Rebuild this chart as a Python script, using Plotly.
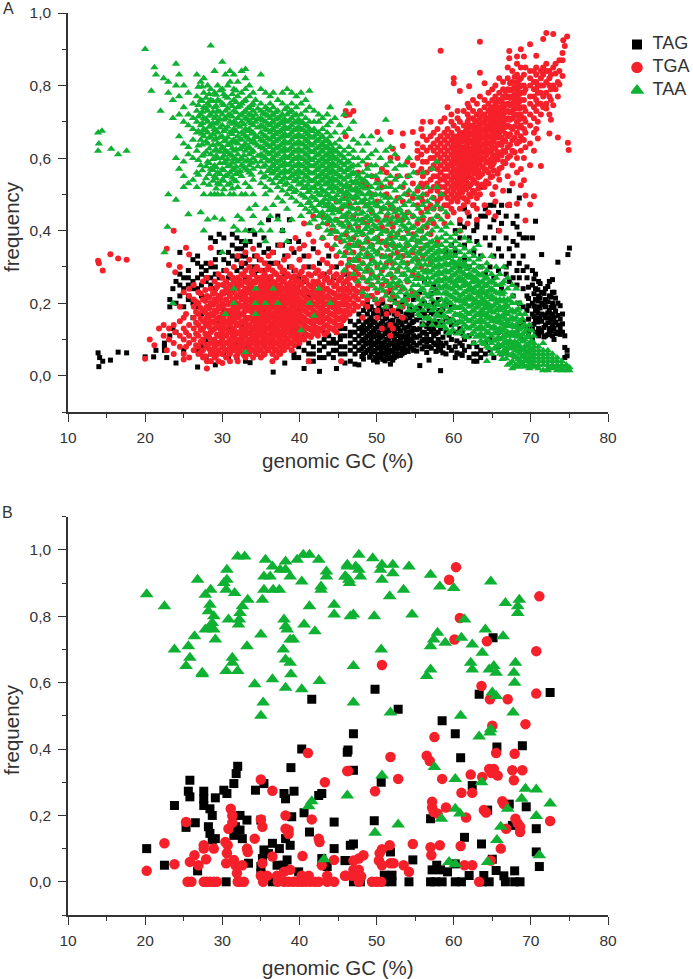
import plotly.graph_objects as go

# ---------- Panel A: (genomic GC %, [frequency x 100, ...]) ----------
TAG_A = [(13.9,[6.3]),(14.1,[5]),(14.5,[4]),(14,[2.5]),(15.5,[4.3]),(16.5,[6.5]),(17.6,[6.3]),(20,[5.2]),(21.1,[5.2]),(21.4,[7]),
(22.5,[8,7,9]),(22.8,[5]),(23.2,[21,19,11]),(23.6,[13,24]),(24,[3.5,20,12,26]),(24.5,[34,28,22,25]),(25,[7,24,27,19]),
(25.6,[21,25,27,29,22]),(26.2,[32,24,20,26,16]),(26.8,[2.4,33,31,27,24,19,7]),(27.3,[25,28,30,22,8,17]),(27.9,[27,29,26,31,10,5,14]),
(28.5,[38,30,27,25,4,6,20]),(29.1,[37,30,32,28,3,24,9]),(29.6,[39,34,27,22,11,15]),(30.2,[38,32,29,25,6,18]),(30.8,[34,31,27,5,23,13]),
(31.3,[39,36,33,27,24,20,7]),(31.9,[38,35,32,29,25,9,5]),(32.5,[37,35,33,30,22,14]),(33,[36,33,31,27,4,19,8]),(33.6,[40,37,3.6,30,24,12]),
(34.2,[39,33,30,28,15]),(34.8,[36,32,29,22]),(35.4,[38,34,29,18,6]),(36,[43,35,31,26]),(36.6,[1,34,31,9,22]),(37.2,[44,36,31,16]),
(37.8,[40,36,29,7]),(38.1,[3.5,33,28,13]),(38.7,[43,37,30,24]),(39.3,[34,29,6,5]),(39.9,[37,27,8,5,18]),(40.6,[2,33,26,7,11]),
(41.2,[30,6,9,4,22]),(41.8,[35,6,8,4,14]),(42.6,[1.2,31,9,5,7,25]),(43.2,[28,8,5,10,12]),(43.8,[33,9,11,6,20]),(44.4,[27,10,7,9,5]),
(44.8,[2,9,12,7,30]),(45.3,[11,8,6,10,13,22]),(45.9,[3.5,11,8,6,13,28]),(46.6,[4,11,9,7,12,15]),(47.2,[3.2,10,8,12,14,6,32]),
(47.7,[3,9,11,7,13,15,17]),(48.3,[4.6,8,10,12,14,6,18]),(48.8,[7,9,11,13,15,17,20]),(49.3,[6,8,10,12,14,16,19,22]),(49.8,[5,7,9,11,13,15,18,21]),
(50.3,[5,6,8,10,12,14,16,19]),(50.8,[4.5,6,8,9,11,13,15,17,20]),(51.3,[5,7,8,10,12,14,16,18]),(51.8,[3.2,5,7,9,11,13,15,19,23]),
(52.3,[5,6,8,10,12,14,17,21]),(52.8,[6,8,9,11,13,15,18]),(53.3,[6,7,9,11,14,16,20]),(53.8,[7,9,10,12,15,17,22]),(54.3,[8,10,12,14,16,19]),
(54.8,[7,9,11,13,15,18,21]),(55.6,[2.8,9,11,13,16,19,23]),(56.2,[8,10,12,14,17,20,26]),(56.8,[4.3,8,10,13,15,18,22]),(57.4,[9,11,13,15,17,20,25]),
(58,[8,10,12,15,18,21]),(58.3,[1.4,7,9,13,17]),(59,[6,9,12,16,20,34]),(59.7,[7,10,14,19,36]),(60.2,[5,8,12,53,40,34]),(60.8,[6,9,13,38,42,30]),
(61.4,[7,10,36,41,46,32]),(62,[5,8,11,38,44,30]),(62.6,[4,6,9,34,40,47]),(63,[4,6,8,42,41,37]),(63.5,[5,7,52,44,33,30]),(64.1,[6,9,44,46,38,28]),
(64.7,[7,10,47,41,36,30]),(65.2,[5,47,43,38,33,27]),(65.8,[8,12,45,40,35,29]),(66.2,[6,47,42,33,24]),(66.8,[7,44,38,30,28]),(67.2,[51,47,35,31,26]),
(67.7,[9,42,37,33,27,22]),(68.2,[44,41,36,29,25,12]),(68.5,[49,39,31,27,20,14]),(69,[38,33,29,24,19,15,10]),(69.5,[38,30,27,22,18,13]),
(70.2,[38,29,25,20,17,13,10]),(70.6,[42.6,28,24,21,18,15,12]),(71,[26,22,19,16,13,11]),(71.4,[33.4,23,20,17,15,12]),(71.9,[24,21,19,16,14,11]),
(72.4,[26,22,18,16,13,12]),(72.8,[26.5,23,20,17,14,11]),(73,[23,19,16,13,10]),(73.5,[31.3,20,16.6,14,12]),(74.1,[14.3,12,17]),(74.4,[7.8,11,5]),
(74.7,[5.5,7]),(74.8,[33.4]),(75,[35.2])]
TAG_A_EXTRA = [(48.1,[5.3,7.4,9.6,11.7,13.3,16.2]),(48.6,[6.4,8.7,10.4,12.6,14.8,19.1]),(49.1,[5.1,7.3,9.2,11.4,13.6,15.4,18.3]),(49.6,[4.3,6.6,8.6,10.7,12.4,14.7,17.2]),
(50.1,[3.8,5.7,7.6,9.4,11.3,13.5,16.6]),(50.6,[5.2,7.2,8.7,10.6,12.7,14.4,18.1]),(51.1,[4.1,6.2,7.7,9.3,11.6,13.4,15.7]),(51.6,[4.7,6.3,8.4,10.3,12.4,14.3,17.3]),
(52.1,[4.3,6.7,8.8,10.8,12.8,15.3]),(52.6,[5.4,7.3,9.4,11.5,13.6,16.4]),(53.1,[5.6,7.6,10.3,12.4,14.7,17.6]),(53.6,[6.4,8.3,10.7,13.2,15.6]),
(54.1,[6.7,8.8,11.2,13.4,17.4]),(54.6,[7.6,9.7,12.3,14.6,16.7]),(55.2,[6.8,8.4,10.6,12.7,15.4,18.6]),(55.9,[7.4,9.6,11.8,14.3,17.7]),(56.5,[6.4,9.3,11.4,13.6,16.2,19.4]),
(57.1,[7.6,9.7,12.2,14.4,17.4,22.6]),(57.7,[6.7,8.6,11.6,14.2,19.7,23.4]),(58.6,[6.3,8.3,10.6,14.7,18.4]),(59.4,[7.8,11.2,15.6]),(60.4,[6.3,9.6,14.7]),
(61.1,[5.6,8.3,11.7]),(69.7,[15.6,19.3,24.4,11.7,21.3]),(70.4,[14.2,16.3,19.2,22.6,26.7]),(70.9,[11.4,14.8,17.4,20.6,23.7]),(71.2,[12.6,15.7,18.7,21.4,25.4]),
(71.7,[10.7,13.3,16.8,19.6,22.7]),(72.2,[11.3,14.6,17.3,20.4,24.6]),(72.6,[12.4,15.3,18.8,21.7]),(73.2,[11.6,14.7,17.8,21.4]),(73.8,[11.4,13.2,15.6,19.3])]

TGA_A = [(13.9,[31.7]),(14,[31]),(14.5,[29]),(15.5,[33.5]),(16.5,[32.3]),(17.6,[32]),(20,[4.7]),(20.6,[10]),(21.2,[8.4]),(21.8,[13]),(22.4,[11,14]),
(22.8,[35,7]),(23.1,[30.5,13,10]),(23.7,[40,14,9,6]),(23.9,[28.5,12]),(24.5,[30,11,8,15,19]),(25,[10,6,13,16,23,4.5]),(25.3,[35.3,8,12,17]),
(25.7,[33.4,5,9,11,14,22,24]),(26.3,[7,10,13,16,19,21,25]),(26.9,[6,8,11,14,17,20,23]),(27.5,[5,7,10,13,15,18,21,26]),(28,[2,4,8,11,14,16,19,22,27]),
(28.5,[35.3,4,6,9,12,15,17,20,24,31]),(29,[5,8,10,13,15,18,21,23,26]),(29.5,[4,7,9,11,14,16,19,22,25,28]),(30,[3.5,6,8,10,12,15,17,20,23,27]),
(30.5,[5,7,9,11,13,15,18,21,24,26,29]),(31,[4,6,8,10,12,14,16,18,20,22,25,28]),(31.5,[7,9,11,13,15,17,19,21,23,26,30]),
(32,[4,6,8,10,12,14,16,18,20,22,24,27,33]),(32.5,[8,10,11,13,15,17,19,21,23,25,28,31]),(33,[5,7,9,11,13,15,16,18,20,22,24,26,29,34]),
(33.5,[6,8,10,12,14,16,18,19,21,23,25,27,30,32]),(34,[5,7,9,11,13,15,17,19,21,22,24,26,28,35]),(34.5,[6,8,10,12,13,15,17,18,20,22,24,27,30,33]),
(35,[5,7,9,11,12,14,16,18,20,21,23,25,27,29,32]),(35.5,[6,8,10,12,14,15,17,19,21,22,24,26,28,31]),(36,[7,9,11,13,15,16,18,20,22,23,25,27,30,33]),
(36.5,[4,6,8,10,12,14,16,17,19,21,23,24,26,29,34]),(37,[5,7,9,11,13,15,17,18,20,22,24,25,28,31]),(37.5,[6,8,10,12,14,16,18,19,21,23,25,27,30,36]),
(38,[7,9,11,13,15,17,19,21,22,24,26,29,32]),(38.5,[8,10,12,14,16,18,20,22,23,25,28,33]),(39,[7,9,11,13,15,17,19,21,23,24,27,30,35]),
(39.5,[10,12,14,16,18,20,22,24,26,29,38]),(40,[9,11,13,15,17,19,21,23,25,28,32,35]),(40.6,[10,12,14,16,18,20,22,24,27,30,36,42]),
(41.2,[4,11,13,15,17,19,21,23,25,28,33,39]),(41.8,[12,14,16,18,20,22,24,26,30,37,44]),(42.4,[11,13,15,17,19,21,23,26,29,34,41]),
(43,[13,15,17,19,21,23,25,28,32,38,44]),(43.6,[12,14,16,18,20,22,24,27,31,36,42,47]),(44.2,[13,15,17,19,21,23,26,30,35,40,46]),
(44.8,[12,14,16,18,20,22,25,28,33,38,43,48]),(45.4,[4,14,16,18,20,22,24,27,31,37,42,46,51]),(46,[16,18,20,22,24,26,29,34,39,44,49,71.8,73,66]),
(46.5,[17,19,21,23,25,28,32,36,41,47,52,72]),(47,[18,20,22,24,27,30,34,38,44,49,73]),(47.6,[19,21,23,25,28,32,36,41,46,51,56]),
(48.2,[16,20,22,24,27,31,35,39,43,48,53]),(48.8,[19,21,24,26,29,33,37,42,47,52,58]),(49.4,[22,25,28,32,36,40,45,50,55]),
(50.1,[16,18,20,23,27,30,34,38,43,48,54,67.2]),(50.7,[13,21,25,29,33,37,41,46,52,57]),(51.3,[17,19,23,26,31,36,40,44,50,56]),
(51.8,[11,14,21,24,28,33,38,42,47,53,67.2,60]),(52.1,[13,18,22,27,31,36,41,46,62.6]),(52.7,[17,20,25,29,34,39,44,49,55,60]),
(53.4,[16,19,24,28,33,38,43,48,52,63.3,66.8]),(54,[21,26,31,36,40,45,50,55,59]),(54.7,[23,28,34,39,44,49,53,58,67.2]),
(55.3,[22,27,32,37,42,47,51,56,60,62,64]),(55.8,[30,35,40,45,49,53,57,61,68]),(56,[33,38,43,48,52,55,59,63,66,70]),
(56.5,[29,36,41,46,50,53,56,59,62,65]),(57,[31,39,43,47,51,54,57,60,63,66,70]),(57.4,[42,46,49,52,55,58,60,62,64,67]),
(57.9,[37,44,48,51,53,55,57,59,61,63,65,68]),(58.3,[46,49,50,52,54,56,58,60,62,64,66,70,89.6]),(58.8,[42,47,50,52,54,55,57,59,61,63,65,67,71]),
(59.2,[44,47,49,51,53,55,57,58,60,62,64,66,68,74]),(59.7,[46,48,50,52,54,56,58,59,61,63,65,67,70,72]),(60,[45,49,51,53,55,57,59,60,62,64,66,69,80.6,82]),
(60.5,[48,50,52,54,56,57,59,61,62,64,66,68,71,73]),(60.8,[40,43,46,51,53,55,58,60,61,63,65,67,70,78.5]),(61.3,[47,49,52,54,56,58,60,62,63,65,67,69,73]),
(61.8,[42,45,48,53,55,57,59,61,63,64,66,68,70,72,75]),(62,[50,52,56,58,60,62,65,67,69,71,74,79.8]),(62.5,[47,51,54,57,59,61,63,65,67,69,71,73,76]),
(63,[43,46,49,53,56,58,60,62,64,66,68,70,72,75]),(63.4,[50,55,59,61,63,65,67,69,71,73,77,83.5,92.1]),(64,[47,52,57,60,62,64,66,68,70,72,74,76,80.6]),
(64.5,[45,53,56,59,62,64,66,68,69,71,73,75,78]),(65,[50,55,58,61,63,65,67,69,71,72,74,76,79]),(65.4,[44,48,52,60,63,66,68,70,72,73,75,77,80]),
(65.9,[40,54,57,61,64,67,69,71,73,74,76,78,82]),(66.4,[51,59,62,65,68,70,72,74,75,77,79,81]),(67,[47,55,60,63,66,69,71,73,75,77,79,82,85]),
(67.2,[47.2,89.5,87.5]),(67.6,[53,58,62,65,68,71,73,75,77,79,81,84]),(68.2,[47.4,56,60,64,67,70,72,75,77,79,81,83,86,88]),
(68.7,[52.5,57,62,66,69,72,74,76,78,80,82,85,90]),(69.1,[53.9,60,65,68,71,74,76,78,80,83,88]),(69.3,[49.7,42.8,63,67,70,73,79,85]),
(69.9,[47.2,58,64,69,72,75,77,80,82,84,91.4]),(70.4,[49.5,62,67,71,74,77,79,81,84]),(70.7,[68,73,76,79,81,83,85,88.2]),(70.9,[65.4,70,75,78,80]),
(71.3,[57.8,72,75,78,80,82,84]),(71.6,[74,77,80,83,85,92.8]),(72,[73.7,75,78,81,84,86,94.5]),(72.4,[66.8,72,77,80,82,84]),(72.6,[70.6,76,79,83]),
(72.9,[74.6,80,85,94.2]),(73.2,[83.3,86,79]),(73.5,[65.7,81,77]),(73.7,[80.3,84,87]),(74.1,[82.6,87,89]),(74.2,[92.5]),(74.4,[90.9]),(74.7,[93.5]),
(74.8,[64.2]),(74.9,[62.2])]
TGA_A_EXTRA = [(26.6,[8.4,11.6,14.6,17.6,20.4]),(27.2,[6.4,9.4,12.6,15.7,18.7,22.7]),(27.8,[5.4,8.6,11.6,14.6,17.4,20.6,23.6]),(28.3,[7.4,10.6,13.4,16.4,18.6,21.6]),(28.8,[6.6,9.6,12.7,14.6,16.6,19.6,22.6]),(29.3,[5.7,8.7,11.4,13.4,15.7,17.6,20.4,24.4]),
(29.8,[9.3,12.7,15.4,18.6,21.3]),(30.2,[7.6,11.2,13.7,16.3,19.4,22.6,25.2]),(30.8,[6.7,9.4,12.3,14.6,17.3,19.7,23.3]),(31.3,[8.4,10.6,12.4,15.7,18.2,20.6,24.4,27.1]),
(31.8,[5.4,7.6,9.7,11.6,14.3,16.6,19.3,21.6,25.3]),(32.3,[6.7,9.3,11.7,14.4,16.7,19.4,22.6,26.3]),(32.8,[5.7,8.4,10.6,12.3,14.6,17.4,19.3,21.4,23.3,27.6]),(33.3,[6.6,9.4,11.7,13.6,15.7,18.6,20.7,23.4,25.6]),
(33.8,[7.4,9.6,11.4,13.3,15.6,17.7,19.8,22.4,24.7,28.6]),(34.3,[6.4,8.7,10.6,12.7,14.4,16.3,18.6,20.4,23.3,25.7,29.4]),(34.8,[7.4,9.3,11.6,13.4,15.3,17.6,19.4,21.6,23.7,26.4]),
(35.3,[5.7,8.6,10.4,12.7,14.6,16.4,18.7,20.3,22.6,24.7,27.3]),(35.8,[7.3,9.6,11.4,13.3,15.6,17.4,19.3,21.4,23.6,25.7,29.3]),(36.3,[8.4,10.6,12.6,14.4,16.7,18.6,20.6,22.4,24.6,27.3]),
(36.8,[7.3,9.4,11.7,13.6,15.4,17.3,19.4,21.6,23.4,25.6,28.3]),(37.3,[6.4,8.6,10.6,12.4,14.7,16.6,18.3,20.4,22.7,24.4,26.6]),(37.8,[7.6,9.4,11.6,13.7,15.6,17.7,19.6,21.7,23.6,26.3,28.6]),
(38.3,[8.4,10.4,12.6,14.7,16.6,18.4,20.6,22.7,24.6,27.3]),(38.8,[9.3,11.7,13.6,15.7,17.6,19.7,21.6,23.7,25.6]),(39.3,[8.4,10.6,12.7,14.6,16.7,18.6,20.7,22.6,24.7,27.4]),
(39.8,[9.6,11.4,13.4,15.6,17.4,19.6,21.4,23.6,26.3]),(40.3,[10.4,12.6,14.6,16.4,18.6,20.4,22.6,25.4,28.7]),(40.9,[11.3,13.4,15.3,17.6,19.4,21.3,23.4,26.3]),
(41.5,[10.7,12.7,14.7,16.6,18.7,20.6,22.7,24.6,27.6]),(42.1,[11.6,13.3,15.6,17.4,19.6,21.6,23.4,25.3,28.3]),(42.7,[12.4,14.6,16.4,18.4,20.4,22.4,24.6,27.4]),(43.3,[11.4,13.7,15.7,17.7,19.7,21.6,23.7,26.4]),
(43.9,[13.3,15.4,17.3,19.3,21.4,23.3,25.6,28.6]),(44.5,[12.6,14.7,16.7,18.7,20.7,22.7,24.7,27.4]),(45.1,[13.7,15.6,17.6,19.4,21.6,23.6,26.3]),(45.7,[15.3,17.3,19.6,21.3,23.3,25.4,28.3]),
(46.3,[17.6,19.4,21.4,23.6,26.6,30.4]),(47.3,[19.3,21.6,23.4,26.4,29.3]),(60.2,[52.6,54.7,56.6,58.6,60.6,62.7,64.7]),(60.7,[49.3,51.7,53.6,55.6,57.4,59.6,61.6,63.6,65.6]),(61.1,[50.6,52.6,54.6,56.7,58.7,60.7,62.4,64.6,66.4]),
(61.6,[48.6,51.4,53.7,55.6,57.6,59.7,61.4,63.3,65.4,67.6]),(62.2,[49.4,52.7,54.7,56.6,58.6,60.4,62.6,64.4,66.6,68.6]),(62.7,[50.4,53.4,55.7,57.7,59.6,61.6,63.7,65.6,67.7,70.4]),(63.2,[51.6,54.7,56.7,58.7,60.6,62.7,64.7,66.7,68.6]),
(63.7,[52.7,55.6,57.7,59.7,61.7,63.6,65.7,67.6,69.7,71.6]),(64.2,[53.6,56.7,58.7,60.7,62.6,64.6,66.7,68.7,70.6]),(64.8,[54.7,57.6,59.7,61.7,63.7,65.6,67.7,69.7,71.7,73.6]),(65.2,[56.6,58.7,60.6,62.6,64.6,66.7,68.6,70.6,72.6]),
(65.7,[55.7,59.6,61.7,63.7,65.7,67.7,69.7,71.7,73.7,75.6]),(66.2,[57.4,60.7,63.6,65.6,67.6,69.6,71.6,73.6,75.6]),(66.7,[58.6,61.7,64.6,66.7,68.6,70.6,72.7,74.6,76.7,78.4]),(67.3,[60.6,63.7,66.6,68.6,70.6,72.6,74.6,76.6,78.6,80.6]),
(67.9,[61.6,65.6,68.7,71.6,73.6,75.7,77.6,79.6,82.4]),(68.5,[64.6,68.4,70.7,73.6,75.6,77.7,79.6,81.6])]

TAA_A = [(13.9,[62,67]),(14,[64]),(14.4,[67.5]),(15.6,[62.5]),(16.5,[61]),(17.6,[62]),(20,[90]),(20.8,[78.5]),(21.2,[85]),(21.4,[83]),(22,[73]),
(22.4,[82]),(22.5,[34]),(23,[81,78,50]),(22.9,[41]),(23.6,[76,20,71]),(24,[86,80,60,48.5]),(24.4,[83,77,72,66,57]),(25,[80,74,70,64,59,55,52]),
(25.6,[78,72,69,63,61,53,44.5]),(26.2,[75,71,68,65,60,54]),(26.7,[83,77,73,70,67,62,56,52]),(27.2,[81,76,72,69,65,58,45]),(27.6,[82,78,74,71,68,66,61,53,40,50]),
(28.1,[80,75,73,70,67,64,59,43]),(28.5,[91,79,76,72,69,66,61,57,50]),(29,[84,78,74,71,68,65,62,58,55,50,43.5]),(29.4,[80,76,73,70,67,64,60,56,53,50]),
(30,[86.5,79,75,72,69,66,63,60,57,54,50,43,34]),(30.4,[83,77,73,71,68,65,62,59,55,17]),(31,[84,81,75,72,70,67,64,61,58,56,53,50]),
(31.5,[83,79,76,73,70,68,65,62,60,57,54,50,24,20,41]),(32,[81,77,74,71,69,66,64,61,59,56,52,44,40]),(32.5,[84,78,75,72,70,67,65,63,60,58,55,50,43]),
(33,[84.5,82,79,76,73,71,68,66,64,62,59,57,53,50,6.5,40,37]),(33.5,[80,77,74,72,70,68,65,63,61,58,56,52,46]),(34,[78,75,73,71,69,67,65,62,60,57,54,50,44,40]),
(34.3,[76,72,70,66,64,59,24,20,17,47]),(35,[83,79,75,73,71,69,67,65,63,61,59,56,53,42,40]),(35.6,[78,74,72,70,68,66,64,62,60,58,55,52,50,20,46,37]),
(36.2,[77,75,73,71,69,67,65,63,61,59,57,54,51,44,40]),(36.6,[78,74,72,70,68,66,64,62,60,58,56,53,24,47]),(37.2,[76,73,71,69,67,65,63,61,59,57,55,52,49,20,43]),
(37.8,[78,75,72,70,68,66,64,62,60,58,56,54,51,48,40]),(38.4,[79,74,72,70,68,66,64,62,60,58,56,53,50,46,37]),(39,[78,75,73,71,69,67,65,63,61,59,57,55,52,49,43]),
(39.6,[77,74,72,70,68,66,64,62,60,58,56,54,51,48]),(40.2,[78,75,72,70,68,66,64,62,60,58,56,53,50,47,44,12.5]),(40.8,[76,73,71,69,67,65,63,61,59,57,55,52,49,46]),
(41.3,[78.5,74,70,68,66,64,62,60,58,56,54,51,48,45,42,20]),(41.9,[73,70,68,66,64,62,60,58,56,54,52,49,46,43,16.5]),(42.5,[72,70,67,65,63,61,59,57,55,53,50,47,44,41,24]),
(43,[71,68,66,64,62,60,58,56,54,51,48,45,42,38]),(43.6,[72,69,67,65,63,61,59,57,55,53,50,47,44,40]),(44,[74,70,66,64,62,60,58,56,54,52,49,46,43,39,20]),
(44.6,[71,67,64,62,60,58,56,54,52,49,46,43,40,36]),(45.2,[69,65,63,61,59,57,55,53,51,48,45,42,38,34]),(45.8,[72,67,62,60,58,56,54,52,50,47,44,41,37,33,29]),
(46.4,[75,68,63,61,59,57,55,52,50,48,45,42,38,35,31]),(47,[70,65,62,60,58,56,53,51,49,46,43,40,36,32,28]),(47.6,[64,60,58,55,53,51,49,46,43,40,37,33,30,26]),
(48.2,[66,62,59,56,54,52,50,48,45,42,39,35,31,27,23]),(48.8,[64,60,57,55,53,50,47,44,41,38,34,30,26,22]),(49.3,[66,61,58,55,52,49,46,43,40,36,33,29,25]),
(49.9,[62,58,55,53,50,47,44,41,38,34,31,27,24,21]),(50.5,[65,60,56,53,50,48,45,42,39,35,31,28,24]),(51.2,[70.5,62,58,54,52,49,46,43,40,37,33,30,26,22,19]),
(51.8,[63,59,55,52,49,46,43,39,36,32,28,25,21]),(52.4,[61,57,54,51,48,45,42,38,35,31,27,24,20]),(53,[58,55,52,49,46,43,40,36,33,30,26,23,19]),
(53.6,[58,53,50,47,44,41,38,35,31,28,24,21]),(54.2,[60,55,51,48,45,42,39,36,33,29,26,22,18]),(54.8,[56,50,47,44,41,38,35,32,29,25,22,18]),
(55.4,[52,49,46,43,40,37,34,31,28,25,21,17]),(56,[56,50,47,44,41,38,35,32,29,27,24,21,18,14]),(56.6,[52,48,45,42,39,36,34,32,29,27,25,22,19,16]),
(57.2,[57,49,46,43,40,37,35,33,31,29,27,24,21,18,14]),(57.8,[59,52,47,44,41,38,36,34,32,30,28,26,23,20,17]),(58.4,[50,46,43,40,38,36,34,32,30,28,26,24,21,18,15]),
(59,[45,41,39,37,35,33,31,29,27,25,23,21,19,16,13]),(59.6,[42,38,36,34,33,31,29,27,26,24,22,20,18,15,12]),(60.2,[39,37,35,33,31,30,28,26,25,23,21,19,17,14]),
(60.8,[40,36,34,32,31,29,27,26,24,22,21,19,17,15,12]),(61.4,[38,35,33,31,30,28,26,25,23,21,20,18,16,14,11]),(62,[37,34,32,30,28,27,25,24,22,21,19,17,15,13]),
(62.6,[35,33,31,29,27,26,24,23,21,20,18,16,14,12,9]),(63.2,[36,32,30,28,26,25,23,22,20,19,17,15,13,11]),(63.7,[33,30,28,26,24,23,21,20,18,17,15,13,11,9]),
(64.3,[31,29,27,25,23,22,20,19,17,16,14,12,10,8,4]),(64.9,[33,28,26,24,22,21,19,18,16,15,13,11,9,6]),(65.5,[30,27,25,23,21,20,18,16,15,13,12,10,8]),
(66,[28,25,23,21,19,18,16,15,13,12,10,8,6]),(66.5,[30,26,23,21,19,17,16,14,13,11,9,7,6]),(67,[27,24,21,19,17,15,14,12,11,9,8,6,3]),
(67.6,[25,22,20,18,16,14,12,11,9,8,6,4,2]),(68.1,[24,20,18,16,14,12,11,9,8,7,5,3]),(68.6,[20,17,15,13,11,10,8,7,6,4,3]),(69.2,[17,14,12,10,8,7,6,5,4,2.5]),
(69.8,[14,11,9,8,7,6,5,4,3,2]),(70.4,[11,9,8,7,6,5,4,3,2.5]),(71,[8,7,6,5,4,3,2]),(71.6,[9,7,6,5,4,3,1.5]),(72.2,[7,6,5,4,3,2,1.5]),
(72.8,[6,5,4,3,2.5,2]),(73.4,[5,4,3,2.5,1.5]),(74,[4,3,2,1.5]),(74.6,[3,2.5,1.5]),(75,[2.3,1.5])]
TAA_A_EXTRA = [(26.9,[55.4,59.4,63.4,67.4,71.4,74.6,79.6]),(27.4,[56.6,60.6,63.7,66.7,69.6,72.7,75.7,79.7]),(27.9,[54.4,57.7,61.7,64.6,67.6,70.7,73.6,76.6]),(28.3,[52.6,55.6,58.6,62.6,65.6,68.6,71.6,74.4,77.6]),(28.8,[53.7,56.7,59.7,63.6,66.6,69.7,72.7,75.7]),
(29.2,[51.6,54.4,57.4,60.6,62.4,65.4,67.6,69.4,71.6,74.4,77.4]),(29.7,[52.7,55.6,58.6,61.7,63.7,65.7,68.4,70.7,72.7,75.6,78.6]),(30.2,[51.4,53.7,56.6,58.6,60.7,62.6,64.6,67.4,70.6,74.6,77.6]),(30.7,[52.6,55.4,57.7,59.6,61.6,63.6,65.7,68.6,71.6,73.6,76.6,80]),(31.3,[51.6,54.6,56.7,58.7,60.6,62.7,64.7,66.6,69.4,71.4,74.3,77.6]),(31.8,[53.6,55.6,57.6,59.6,62.4,64.4,67.4,69.6,72.6,75.4,78.6]),
(32.3,[56.4,59.6,62.4,65.3,68.6,71.7,74.4]),(32.8,[57.6,60.7,63.4,66.6,69.3,72.6,75.6]),(33.3,[56.6,59.4,62.6,65.6,67.4,70.6,73.7]),(33.8,[55.4,58.7,61.6,64.3,66.7,69.6,71.7,74.6]),
(34.6,[57.7,60.6,63.4,65.7,68.4,70.7,73.6]),(35.3,[54.6,57.6,60.4,62.6,64.6,66.4,68.6,70.4,72.4]),(35.9,[56.4,59.3,61.4,63.6,65.4,67.6,69.4,71.6,73.4]),(36.4,[55.7,57.7,59.7,61.7,63.7,65.7,67.7,69.7,71.7]),
(36.9,[54.4,56.6,58.6,60.6,62.6,64.6,66.6,68.6,70.6,72.6]),(37.5,[53.4,55.7,57.7,59.4,61.7,63.4,65.6,67.4,69.6,71.4]),(38.1,[52.6,54.7,56.7,58.7,60.7,62.7,64.7,66.7,68.7,70.7,73.4]),(38.7,[51.4,54.4,56.4,58.3,60.4,62.4,64.3,66.4,68.4,70.4,72.6]),
(39.3,[50.6,53.6,55.6,57.7,59.7,61.7,63.7,65.7,67.7,69.7,71.7]),(39.9,[52.7,54.7,56.7,58.6,60.6,62.6,64.6,66.6,68.6,70.6]),(40.5,[49.6,51.7,53.7,55.7,57.7,59.7,61.7,63.7,65.7,67.7,69.6]),(41.1,[47.6,50.6,52.6,54.6,56.6,58.6,60.6,62.6,64.6,66.6,68.6]),
(41.6,[46.7,49.4,51.7,53.6,55.7,57.7,59.4,61.6,63.4,65.6,67.4]),(42.2,[45.4,48.4,50.7,52.7,54.7,56.7,58.4,60.7,62.6,64.7,66.6]),(42.8,[44.7,47.6,49.7,51.7,53.7,55.6,57.7,59.6,61.7,63.6,65.7]),(43.3,[43.4,46.7,48.7,50.7,52.7,54.6,56.6,58.7,60.6,62.7,64.7]),
(43.8,[42.6,45.6,47.7,49.7,51.6,53.6,55.7,57.6,59.7,61.6,63.7]),(44.3,[41.4,44.7,46.7,48.7,50.7,52.7,54.6,56.7,58.6,60.7,62.7]),(44.9,[39.6,42.7,45.6,47.7,49.7,51.6,53.7,55.6,57.7,59.6,61.7]),(45.5,[38.7,41.6,43.7,46.6,48.7,50.6,52.6,54.6,56.7,58.6,60.6]),
(46.1,[35.6,39.7,42.7,44.6,46.6,48.7,50.7,52.7,54.7,56.7,58.7]),(46.7,[33.7,37.4,40.6,43.6,46.4,49.3,51.4,53.6,55.6,57.6]),(47.3,[31.6,35.7,38.7,41.7,44.6,47.6,49.6,51.7,53.7,55.7]),(47.9,[29.4,33.6,36.6,39.6,42.7,44.6,47.7,50.4,52.4,54.4]),
(48.5,[28.6,32.6,36.7,40.4,43.4,46.6,48.7,51.6,53.7]),(49.1,[26.7,30.7,35.4,39.4,42.6,45.6,47.6,50.6]),(49.6,[27.6,31.6,34.7,37.6,41.6,44.6,47.7,49.7]),(50.2,[25.7,29.6,33.4,36.7,40.4,43.6,46.7,51.6]),
(50.9,[23.4,26.7,29.7,32.6,36.6,39.7,42.7,46.4,49.6]),(51.5,[24.7,27.7,31.6,34.7,37.7,41.6,44.7,47.6]),(52.1,[22.7,25.7,29.6,33.6,36.7,39.7,43.6,46.7]),(52.7,[21.7,25.4,28.6,32.4,35.7,38.7,42.6,45.6]),
(53.3,[20.6,24.6,27.7,31.4,34.6,37.7,41.6,44.7]),(53.9,[19.7,22.7,26.6,29.7,33.7,36.7,40.4,43.4]),(54.5,[19.4,23.7,27.4,31.4,34.4,37.4,40.7]),(55.1,[18.7,22.7,26.6,29.7,32.7,35.7,38.7]),
(55.7,[16.4,19.7,23.6,26.6,30.6,33.6,36.6,39.7]),(56.3,[15.7,19.6,22.7,25.6,28.4,30.6,33.4,35.6,37.7]),(56.9,[15.7,19.4,22.6,25.7,28.4,30.4,32.4,34.6,36.7]),(57.5,[15.4,18.6,22.6,25.6,27.6,29.7,31.7,33.6,35.7]),
(58.1,[13.7,16.4,19.4,22.7,24.7,26.7,28.7,30.7,32.7,34.7]),(58.7,[13.7,16.7,19.7,22.6,24.6,26.6,28.6,30.6,32.6,34.4]),(59.3,[11.7,14.6,17.6,20.4,22.4,24.4,26.4,28.4,30.4,32.4]),(59.9,[12.6,15.6,18.6,21.6,23.7,25.6,27.6,29.6,31.6]),
(60.5,[11.6,14.6,16.7,18.6,20.6,22.6,24.6,26.7,28.6,30.7]),(61.1,[12.7,14.7,16.4,18.7,20.4,22.4,24.7,26.6,28.4,30.4]),(61.7,[10.6,13.4,15.6,17.4,19.6,21.4,23.4,25.4,27.4,29.4]),(62.3,[11.4,13.6,15.4,17.6,19.4,21.6,23.6,25.7,27.6]),
(62.9,[10.7,12.7,14.7,16.7,18.7,20.7,22.7,24.6,26.7,28.7]),(63.5,[9.6,11.6,13.7,15.7,17.6,19.6,21.7,23.7,25.6,27.6]),(64,[8.7,10.7,12.7,14.7,16.6,18.6,20.7,22.6,24.7,26.7]),(64.6,[7.6,9.6,11.7,13.7,15.7,17.7,19.6,21.6,23.6,25.7]),
(65.2,[7.4,9.6,11.6,13.6,15.6,17.4,19.4,21.4,23.4,25.6]),(65.8,[6.7,8.7,10.6,12.6,14.6,16.6,18.7,20.6,22.6]),(66.3,[4.6,8.4,10.4,12.4,14.4,16.4,18.4,20.4,22.4,25.4]),(66.8,[4.7,7.4,9.6,11.6,13.7,15.6,17.6,19.7]),
(67.3,[3.4,5.6,7.6,9.7,11.7,13.6,15.6,17.7,20.6]),(67.9,[2.6,5.4,7.4,9.4,11.4,13.4,15.4,17.4]),(68.4,[2.4,4.6,6.6,8.6,10.7,12.7,14.6,18.4]),(68.9,[3.4,5.4,7.4,9.4,11.4,13.4,15.7]),(69.5,[2.6,4.6,6.6,8.6,10.6,12.7]),(70.1,[2.4,3.6,5.6,7.4,9.6,12.4])]

# ---------- Panel B ----------
TAG_B_gc = [20.2,22.5,23.8,25.8,25.6,25.8,25.3,26.5,26.8,27.6,27.6,27.6,28.4,28.7,29.1,30.2,30.6,28.2,28.4,28.7,29.1,31.5,31.8,32,32.3,33.2,31.7,32.3,31.5,32.6,33.4,30.5,34.3,35.4,35,38,38.2,39.3,38.9,40.3,39,40.6,41.3,42.5,42.9,44.5,46.2,38.8,38.2,36.5,35.4,37.4,35.2,36,38.4,37.1,38,39.9,42.9,43.6,44.5,46,46.6,35,35,36.5,
41.6,49.8,63.3,72.5,52.8,58.5,65.1,47,60.2,46.3,65.6,68.9,60.9,47,50.6,62.4,67.2,69.4,64.4,49.7,57,70.7,67.6,61.4,47,63.6,70.7,71.1,51.8,54.7,45.9,65,57.8,57.2,58.3,59.2,60.2,65.5,67.9,66.5,62,63.9,51,52,47,47.9,49.7,51,52,54.2,57,57.6,58.5,60.2,61,63.7,64.6,66.7,67.9,68.6]
TAG_B_f = [.10,.05,.23,.306,.273,.256,.164,.178,.033,.273,.25,.23,.22,.20,.253,.276,.266,.166,.146,.126,.13,.296,.326,.348,.20,.186,.166,.156,.14,.13,.056,0,.276,.296,.186,.266,.25,.273,.344,.40,.196,.208,.15,.26,.266,.18,.39,.11,.13,.116,.096,.10,.07,.085,.066,.05,.05,.03,.07,.046,.10,.064,.11,.046,.026,0,
.55,.58,.565,.57,.52,.485,.735,.446,.446,.397,.406,.41,.374,.336,.30,.29,.234,.226,.216,.184,.19,.16,.17,.134,.114,.114,.09,.046,.09,.066,.064,.068,.05,.036,.036,.03,.054,.034,.033,.018,.019,.019,.02,.02,0,0,0,0,0,0,0,0,0,0,0,0,0,0,0,0]

TGA_B_gc = [20.2,22.5,23.8,25.3,25.8,26.4,26.9,27.9,27.6,27.6,28.9,30.4,30.7,30.6,30.5,31.1,31.3,31.3,30.8,31.5,31.7,32.6,31.9,33.2,33.3,34.2,35,36.5,35,35.2,36.5,35.2,38.2,38.2,38.6,38.6,41.1,43.3,41.6,42.5,42.6,40.4,42.9,44.5,46.2,46,35,35.8,37.1,38,38.8,40.3,41.2,43.6,
25.5,26,27.6,28,28.4,28.9,29.3,32,32.3,32.8,35.3,37.2,38,38.6,39.2,39.8,40.3,40.8,41.4,42,42.5,43.6,44.5,
60.3,59.4,71.1,60.8,60.1,64.3,70.7,50.7,63.6,64.7,67,70.7,65,69.3,
57.5,51.8,56.5,56.9,65.5,67.9,46.3,52.8,58.5,62.2,63.7,64.6,65.2,64.9,65.7,67.6,68.9,67.8,49.8,61,62.4,66.3,66.5,57.2,57.2,57.4,57.9,59,63.9,64.2,61.6,68,68.3,68.6,68.6,66.8,72.5,66.1,54.7,51.7,50.7,50.4,57,58.2,60.9,57.1,48.3,47.7,47,50.3,50.7,51.8,52.2,53.5,54.2,61.4,62.4,64.8,47,47.7,45.9,46.8,48,47.7,49.4,50,50.6,63.3]
TGA_B_f = [.033,.116,.053,.18,.06,.08,.05,.068,.11,.10,.10,.12,.11,.086,.056,.22,.20,.178,.16,.066,.05,.05,.026,.10,.09,.13,.308,.274,.188,.166,.076,.056,.20,.16,.156,.144,.388,.30,.188,.13,.12,.078,.05,.066,.334,.018,.018,.018,.018,.03,.036,.018,.018,.018,
0,0,0,0,0,0,0,0,0,0,0,0,0,0,0,0,0,0,0,0,0,0,0,
.948,.91,.86,.795,.73,.725,.695,.653,.59,.55,.55,.567,.47,.475,
.436,.376,.38,.364,.388,.386,.334,.31,.31,.323,.316,.34,.34,.328,.32,.336,.336,.306,.273,.268,.268,.243,.234,.241,.224,.21,.206,.224,.216,.209,.194,.19,.176,.166,.15,.16,.183,.10,.114,.11,.098,.086,.104,.11,.108,.08,.08,.07,.064,.064,.05,.056,.056,.05,.03,.05,.05,.064,.036,.036,.018,.018,.016,0,0,0,0,0]

TAA_B_gc = [20.2,22.5,26.8,23.8,25.6,26.4,25.8,25.3,27.4,27.4,27.8,28.5,28.4,28.2,28.9,28.7,28.4,27.8,28.9,29.1,30.2,30.6,30.6,30.5,31.6,33.3,32.6,32.3,32.2,32.1,30.8,33.2,31.3,31.3,30.5,32,34.2,35,35.3,35,35.2,35.4,32,32.9,35.6,35.4,36.2,36.5,36.6,37.4,37.5,38.2,38.2,38.8,39.7,40.5,41.3,42.5,40.3,43.5,43.5,42.8,42.8,46.2,45.9,46.4,41.3,44.5,44.5,46.6,38,38.2,38.4,40.6,42,38.8,39.2,37.9,38.2,38.8,38.9,36.5,38.2,40.3,42.6,
47.7,49.5,46.2,47.3,46,47.7,47.9,46.5,50.7,50.5,52.1,52.1,54.2,50.7,53.5,51.7,57,58.2,60,64.8,66.7,68.5,68.3,68.3,47,49.7,54.6,61.4,57.9,57.4,57,58.9,61,62.4,64.1,66.4,63.7,50.6,47,57,56.5,62.2,62.4,64.6,65.2,65.5,68,67.8,67.9,65,65.5,47,51.8,60.9,67.7,64.8,
41.2,41.6,43.2,46.2,50.7,52.8,49.8,57.5,60.2,63.6,63.3,64.7,69.3,70.7,68.8,72.5,67,60.2,60.8,58.4,70.7,66.1,65.6,71.1,59.4,60.2,64.4]
TAA_B_f = [.866,.83,.91,.70,.71,.74,.675,.65,.63,.625,.865,.88,.835,.815,.80,.78,.77,.76,.76,.73,.90,.94,.91,.88,.87,.85,.83,.81,.79,.775,.79,.71,.675,.66,.635,.635,.595,.745,.54,.50,.85,.88,.98,.98,.97,.92,.92,.95,.88,.88,.94,.965,.94,.92,.97,.985,.985,.97,.905,.935,.92,.89,.88,.955,.92,.91,.83,.835,.805,.80,.79,.77,.76,.775,.755,.73,.73,.70,.67,.66,.625,.61,.585,.58,.605,
.985,.975,.95,.95,.92,.94,.92,.90,.955,.94,.955,.93,.95,.91,.88,.86,.925,.89,.885,.905,.84,.85,.83,.81,.805,.80,.805,.79,.75,.73,.71,.72,.735,.715,.76,.74,.69,.70,.65,.64,.62,.66,.64,.64,.65,.63,.66,.63,.60,.57,.56,.54,.51,.50,.51,.46,
.228,.243,.068,.26,.32,.173,.148,.346,.31,.30,.438,.45,.28,.278,.25,.236,.22,.22,.206,.19,.198,.166,.126,.08,.06,.053,.06]

x_ticks = [10,20,30,40,50,60,70,80]
y_ticks = [0.0,0.2,0.4,0.6,0.8,1.0]
y_labels = ["0,0","0,2","0,4","0,6","0,8","1,0"]
legend_names = ["TAG","TGA","TAA"]
legend_rows = [3,2,1]

def flat(*tables):
    cols = [c for t in tables for c in t]
    return [g for g,v in cols for _ in v], [f/100 for _,v in cols for f in v]

W, H = 693, 979
FONT = "Liberation Sans"
BLACK, RED, GREEN = "#000000", "#f5202a", "#0fb132"
AX = "#333333"
fig = go.Figure()
for name, tabs, sym, size, col in [("TAG",(TAG_A,TAG_A_EXTRA),"square",5,BLACK),("TGA",(TGA_A,TGA_A_EXTRA),"circle",6,RED),("TAA",(TAA_A,TAA_A_EXTRA),"triangle-up",7.4,GREEN)]:
    x,y = flat(*tabs)
    fig.add_trace(go.Scatter(x=x,y=y,mode="markers",name=name,marker=dict(symbol=sym,size=size,color=col,line_width=0),xaxis="x",yaxis="y",showlegend=False))
for name, x, y, sym, size, col in [("TAG",TAG_B_gc,TAG_B_f,"square",9,BLACK),("TGA",TGA_B_gc,TGA_B_f,"circle",10.5,RED),("TAA",TAA_B_gc,TAA_B_f,"triangle-up",12,GREEN)]:
    fig.add_trace(go.Scatter(x=x,y=y,mode="markers",name=name,marker=dict(symbol=sym,size=size,color=col,line_width=0),xaxis="x2",yaxis="y2",showlegend=False))
# legend block on its own hidden axes
for name, row, sym, size, col in zip(legend_names,legend_rows,["square","circle","triangle-up"],[10,11.5,13],[BLACK,RED,GREEN]):
    fig.add_trace(go.Scatter(x=[0],y=[row],mode="markers",name=name,marker=dict(symbol=sym,size=size,color=col,line_width=0),xaxis="x3",yaxis="y3",showlegend=False))
fig.add_trace(go.Scatter(x=[1.3]*3,y=legend_rows,mode="text",text=legend_names,textposition="middle right",cliponaxis=False,
    textfont=dict(family=FONT,size=18,color=AX),xaxis="x3",yaxis="y3",showlegend=False))

def xax(anchor):
    return dict(domain=[68/W,608/W],range=[10,80],anchor=anchor,tickvals=x_ticks,ticktext=[str(v) for v in x_ticks],ticks="outside",ticklen=8,tickwidth=1.4,tickcolor=AX,
        minor=dict(dtick=5,ticks="outside",ticklen=4,tickwidth=1.2,tickcolor=AX,showgrid=False),showline=True,linewidth=1.5,linecolor=AX,showgrid=False,zeroline=False,automargin=False,
        ticklabelstandoff=3,tickfont=dict(family=FONT,size=15.5,color=AX))
def yax(anchor, rng, dom):
    return dict(domain=dom,range=rng,anchor=anchor,tickvals=y_ticks,ticktext=y_labels,ticks="outside",ticklen=8,tickwidth=1.4,tickcolor=AX,
        minor=dict(dtick=0.1,ticks="outside",ticklen=4,tickwidth=1.2,tickcolor=AX,showgrid=False),showline=True,linewidth=1.5,linecolor=AX,showgrid=False,zeroline=False,automargin=False,
        ticklabelstandoff=4,tickfont=dict(family=FONT,size=15.5,color=AX))
def note(text,x,y,size,angle=0,anchor="center"):
    return dict(text=text,x=x/W,y=(H-y)/H,xref="paper",yref="paper",showarrow=False,xanchor=anchor,yanchor="middle",textangle=angle,font=dict(family=FONT,size=size,color=AX))

fig.update_layout(width=W,height=H,margin=dict(l=0,r=0,t=0,b=0),autosize=False,paper_bgcolor="white",plot_bgcolor="white",showlegend=False,
    xaxis=xax("y"),yaxis=yax("x",[-0.1,1.0],[(H-412)/H,(H-13)/H]),
    xaxis2=xax("y2"),yaxis2=yax("x2",[-0.1,1.1],[(H-915)/H,(H-516.7)/H]),
    xaxis3=dict(domain=[631/W,1],range=[-0.5,4.67],anchor="y3",visible=False),
    yaxis3=dict(domain=[(H-102)/H,(H-33)/H],range=[0.5,3.5],anchor="x3",visible=False),
    annotations=[note("A",1,9,16,anchor="left"),note("B",0,512,16,anchor="left"),
                 note("genomic GC (%)",338,460,20.5),note("genomic GC (%)",338,967,20.5),
                 note("frequency",11,227,20.5,angle=-90),note("frequency",11,730,20.5,angle=-90)])
fig.write_html("out.html", config={"displayModeBar": False}, post_script="document.body.style.margin='0';document.body.style.overflow='hidden';")
